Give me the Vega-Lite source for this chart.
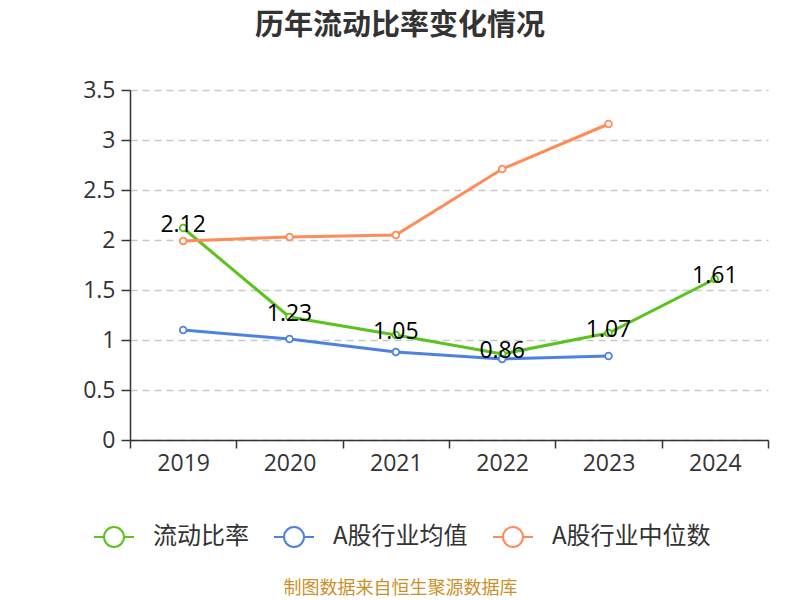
{
  "$schema": "https://vega.github.io/schema/vega-lite/v6.json",
  "width": 638,
  "height": 350,
  "autosize": "none",
  "padding": {"left": 130, "top": 90, "right": 32, "bottom": 160},
  "config": {"view": {"stroke": null}, "font": "Open Sans, Noto Sans CJK SC"},
  "title": {"text": "历年流动比率变化情况", "font": "Noto Sans CJK SC", "fontSize": 29, "fontWeight": "bold", "color": "#333333", "anchor": "middle", "dx": -49, "offset": 38},
  "data": {"values": [
    {"year": "2019", "series": "流动比率", "value": 2.12},
    {"year": "2020", "series": "流动比率", "value": 1.23},
    {"year": "2021", "series": "流动比率", "value": 1.05},
    {"year": "2022", "series": "流动比率", "value": 0.86},
    {"year": "2023", "series": "流动比率", "value": 1.07},
    {"year": "2024", "series": "流动比率", "value": 1.61},
    {"year": "2019", "series": "A股行业均值", "value": 1.10},
    {"year": "2020", "series": "A股行业均值", "value": 1.01},
    {"year": "2021", "series": "A股行业均值", "value": 0.88},
    {"year": "2022", "series": "A股行业均值", "value": 0.81},
    {"year": "2023", "series": "A股行业均值", "value": 0.84},
    {"year": "2019", "series": "A股行业中位数", "value": 1.99},
    {"year": "2020", "series": "A股行业中位数", "value": 2.03},
    {"year": "2021", "series": "A股行业中位数", "value": 2.05},
    {"year": "2022", "series": "A股行业中位数", "value": 2.71},
    {"year": "2023", "series": "A股行业中位数", "value": 3.16}
  ]},
  "encoding": {
    "x": {"field": "year", "type": "ordinal", "scale": {"type": "band", "paddingInner": 0, "paddingOuter": 0},
      "axis": {"title": "制图数据来自恒生聚源数据库", "titleFont": "Noto Sans CJK SC", "titleColor": "#C9912B", "titleFontSize": 18, "titleFontWeight": "normal", "titleX": 270, "titleY": 148, "titleBaseline": "middle", "titleAnchor": "middle",
        "labelAngle": 0, "labelFontSize": 23, "labelColor": "#333333", "labelPadding": 4, "tickBand": "extent", "tickSize": 8, "tickWidth": 1.5, "tickColor": "#333333", "domainColor": "#333333", "domainWidth": 1.5, "grid": false}},
    "y": {"field": "value", "type": "quantitative", "scale": {"domain": [0, 3.5]},
      "axis": {"title": null, "values": [0, 0.5, 1, 1.5, 2, 2.5, 3, 3.5], "format": ".1~f", "labelFontSize": 23, "labelColor": "#333333", "labelPadding": 6, "tickSize": 9, "tickWidth": 1.5, "tickColor": "#333333", "domainColor": "#333333", "domainWidth": 1.5, "gridDash": [7, 5], "gridColor": "#c8c8c8", "gridWidth": 1.5, "labelFlush": false}}
  },
  "layer": [
    {
      "mark": {"type": "line", "strokeWidth": 3, "point": {"filled": false, "fill": "white", "size": 45, "strokeWidth": 1.8}},
      "encoding": {
        "color": {"field": "series", "type": "nominal",
          "scale": {"domain": ["流动比率", "A股行业均值", "A股行业中位数"], "range": ["#5BC21E", "#4F81E3", "#FF8B59"]},
          "legend": {"title": null, "orient": "none", "direction": "horizontal", "legendX": -37, "legendY": 426,
            "symbolType": "M-1,0L-0.5,0M0.5,0L1,0M0.5,0A0.5,0.5 0 1 1 -0.5,0A0.5,0.5 0 1 1 0.5,0", "symbolSize": 1600, "symbolStrokeWidth": 2, "symbolFillColor": "white",
            "labelFont": "Noto Sans CJK SC", "labelFontSize": 24, "labelColor": "#333333", "labelOffset": 18, "columnPadding": 21}}
      }
    },
    {
      "transform": [{"filter": "datum.series === '流动比率'"}],
      "mark": {"type": "text", "fontSize": 23, "color": "#000000", "dy": -3, "baseline": "middle"},
      "encoding": {"text": {"field": "value", "type": "quantitative", "format": ".2f"}}
    }
  ]
}
